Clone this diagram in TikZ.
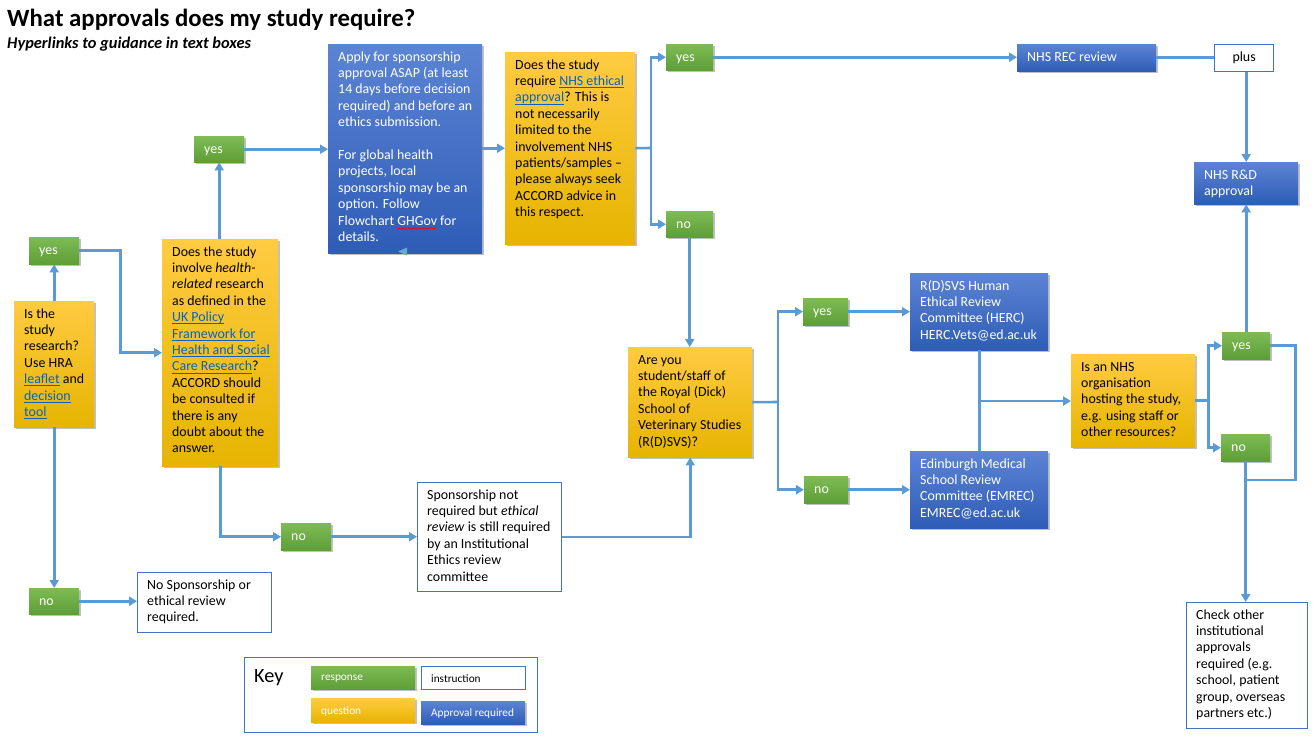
\documentclass[tikz,border=0pt]{standalone}
\usepackage{fontspec}
\setmainfont{Carlito}
\usetikzlibrary{arrows.meta,shadows,decorations.pathmorphing,calc}
\definecolor{lineblue}{RGB}{91,155,213}
\definecolor{ytop}{RGB}{255,203,66}
\definecolor{ybot}{RGB}{230,180,0}
\definecolor{gtop}{RGB}{126,187,86}
\definecolor{gbot}{RGB}{94,158,54}
\definecolor{btop}{RGB}{92,132,212}
\definecolor{bbot}{RGB}{46,92,182}
\definecolor{wborder}{RGB}{68,114,196}
\definecolor{linkc}{RGB}{5,99,193}
\newcommand{\lnk}[1]{{\color{linkc}\setbox0\hbox{#1}\rlap{\vrule width\wd0 height -1.7pt depth 2.6pt}\box0}}
\tikzset{
  shad/.style={drop shadow={shadow xshift=1.5pt,shadow yshift=-2pt,opacity=0.35,fill=black!70}},
  ybox/.style={top color=ytop,bottom color=ybot,draw=none,shad,inner sep=0},
  gbox/.style={top color=gtop,bottom color=gbot,draw=none,shad,inner sep=0},
  bbox/.style={top color=btop,bottom color=bbot,draw=none,shad,inner sep=0},
  wbox/.style={fill=white,draw=wborder,line width=1.2pt,inner sep=0},
  txt/.style={inner sep=0,align=left,font=\fontsize{13.9}{16.4}\selectfont},
  ln/.style={draw=lineblue,line width=2.6pt},
  arr/.style={ln,-{Triangle[length=8pt,width=9pt]}},
}
\newcommand{\tbox}[8]{%
  \pgfmathsetmacro\bw{#6-#4}%
  \pgfmathsetmacro\bh{#7-#5}%
  \node[#1,minimum width=\bw pt,minimum height=\bh pt,anchor=north west] (#3) at (#4,#5) {};%
  \node[txt,text=#2,anchor=north west] at ([xshift=10pt,yshift=-5.5pt]#3.north west) {\strut #8};%
}
\newcommand{\kbox}[8]{%
  \pgfmathsetmacro\bw{#6-#4}%
  \pgfmathsetmacro\bh{#7-#5}%
  \node[#1,minimum width=\bw pt,minimum height=\bh pt,anchor=north west] (#3) at (#4,#5) {};%
  \node[inner sep=0,text=#2,anchor=west,font=\fontsize{11.3}{13}\selectfont] at ([xshift=10pt,yshift=-0.8pt]#3.west) {#8};%
}
\begin{document}
\begin{tikzpicture}[x=1pt,y=-1pt]
\useasboundingbox[fill=white] (0,0) rectangle (1314,742);
% title
\node[anchor=base west,inner sep=0,font=\fontsize{24.8}{29}\selectfont\bfseries] (title) at (7,26.7) {What approvals does my study require?};
\node[anchor=base west,inner sep=0,font=\fontsize{16.4}{19}\selectfont\bfseries\itshape] (subtitle) at (7,48.3) {Hyperlinks to guidance in text boxes};
% boxes
\tbox{gbox}{white}{yesL}{29}{237}{79}{264}{yes}
\tbox{ybox}{black}{research}{14}{301}{94}{427}{Is the\\study\\research?\\Use HRA\\\lnk{leaflet} and\\\lnk{decision}\\\lnk{tool}}
\tbox{ybox}{black}{health}{162}{239}{278}{466}{Does the study\\involve \textit{health-}\\\textit{related} research\\as defined in the\\\lnk{UK Policy}\\\lnk{Framework for}\\\lnk{Health and Social}\\\lnk{Care Research}?\\ACCORD should\\be consulted if\\there is any\\doubt about the\\answer.}
\tbox{gbox}{white}{yesM}{194}{136}{244}{162}{yes}
\tbox{bbox}{white}{sponsor}{328}{44}{482}{253}{Apply for sponsorship\\approval ASAP (at least\\14 days before decision\\required) and before an\\ethics submission.\\[16.4pt]For global health\\projects, local\\sponsorship may be an\\option. Follow\\Flowchart GHGov for\\details.}
\fill[lineblue!90!white] (398,251.5) -- (407,247.5) -- (407,255.5) -- cycle;
\tbox{ybox}{black}{nhs}{505}{52}{635}{244}{Does the study\\require \lnk{NHS ethical}\\\lnk{approval}? This is\\not necessarily\\limited to the\\involvement NHS\\patients/samples --\\please always seek\\ACCORD advice in\\this respect.}
\tbox{gbox}{white}{yesT}{666}{44}{713}{70}{yes}
\tbox{gbox}{white}{noT}{666}{211}{713}{237}{no}
\tbox{bbox}{white}{rec}{1017}{44}{1156}{71}{NHS REC review}
\node[wbox,minimum width=59pt,minimum height=27pt,anchor=north west,font=\fontsize{13.9}{16.4}\selectfont] (plus) at (1214,44) {plus};
\tbox{bbox}{white}{rnd}{1194}{162}{1298}{204}{NHS R\&D\\approval}
\tbox{gbox}{white}{noL}{29}{588}{79}{614}{no}
\tbox{wbox}{black}{nosp}{137}{572}{271}{632}{No Sponsorship or\\ethical review\\required.}
\tbox{gbox}{white}{noM}{281}{523}{331}{550}{no}
\tbox{wbox}{black}{spnot}{417}{482}{561}{591}{Sponsorship not\\required but \textit{ethical}\\\textit{review} is still required\\by an Institutional\\Ethics review\\committee}
\tbox{ybox}{black}{are}{628}{347}{752}{457}{Are you\\student/staff of\\the Royal (Dick)\\School of\\Veterinary Studies\\(R(D)SVS)?}
\tbox{gbox}{white}{yesR}{803}{298}{848}{325}{yes}
\tbox{gbox}{white}{noR}{804}{476}{848}{503}{no}
\tbox{bbox}{white}{herc}{910}{273}{1048}{350}{R(D)SVS Human\\Ethical Review\\Committee (HERC)\\HERC.Vets@ed.ac.uk}
\tbox{bbox}{white}{emrec}{910}{451}{1048}{528}{Edinburgh Medical\\School Review\\Committee (EMREC)\\EMREC@ed.ac.uk}
\tbox{ybox}{black}{host}{1071}{354}{1195}{447}{Is an NHS\\organisation\\hosting the study,\\e.g. using staff or\\other resources?}
\tbox{gbox}{white}{yes2}{1222}{332}{1270}{359}{yes}
\tbox{gbox}{white}{no2}{1221}{434}{1270}{461}{no}
\tbox{wbox}{black}{check}{1186}{602}{1307}{728}{Check other\\institutional\\approvals\\required (e.g.\\school, patient\\group, overseas\\partners etc.)}
% spell-check squiggle
\draw[red,line width=0.6pt,decorate,decoration={snake,amplitude=0.7pt,segment length=2.6pt}] (397,228.5) -- (436,228.5);
% key
\node[wbox,minimum width=293pt,minimum height=75pt,anchor=north west] (keybox) at (244,657) {};
\node[anchor=base west,inner sep=0,font=\fontsize{20.3}{24}\selectfont] (keytitle) at (254,682) {Key};
\kbox{gbox}{white}{k1}{311}{666}{415}{689}{response}
\kbox{wbox}{black}{k2}{421}{666}{525}{689}{instruction}
\kbox{ybox}{white}{k3}{311}{698}{415}{722}{question}
\kbox{bbox}{white}{k4}{421}{701}{525}{724}{Approval required}
% connectors
\draw[arr] (research.north) -- (yesL.south);
\draw[arr] (yesL.east) -- ++(41,0) |- (health.west);
\draw[arr] (research.south) -- (noL.north);
\draw[arr] (noL.east) -- (noL.east -| nosp.west);
\draw[arr] (yesM.south |- health.north) -- (yesM.south);
\draw[arr] (yesM.east) -- (yesM.east -| sponsor.west);
\draw[arr] (sponsor.east |- nhs.west) -- (nhs.west);
\coordinate (t1) at (651,148);
\draw[ln] (nhs.east) -- (t1);
\draw[arr] (t1) |- (yesT.west);
\draw[arr] (t1) |- (noT.west);
\draw[arr] (yesT.east) -- (yesT.east -| rec.west);
\draw[ln] (rec.east) -- (rec.east -| plus.west);
\draw[arr] (rnd.north |- plus.south) -- (rnd.north);
\draw[arr] (noT.south) -- (noT.south |- are.north);
\draw[arr] (health.south) |- (noM.west);
\draw[arr] (noM.east) -- (noM.east -| spnot.west);
\draw[arr] (spnot.east) -| (are.south);
\coordinate (t2) at (778,402);
\draw[ln] (are.east) -- (t2);
\draw[arr] (t2) |- (yesR.west);
\draw[arr] (t2) |- (noR.west);
\draw[arr] (yesR.east) -- (yesR.east -| herc.west);
\draw[arr] (noR.east) -- (noR.east -| emrec.west);
\draw[ln] (herc.south) -- (emrec.north);
\coordinate (j) at (979,401);
\draw[arr] (j) -- (j -| host.west);
\coordinate (t3) at ($(host.east)+(13,0)$);
\draw[ln] (host.east) -- (t3);
\draw[arr] (t3) |- (yes2.west);
\draw[arr] (t3) |- (no2.west);
\draw[arr] (yes2.north) -- (yes2.north |- rnd.south);
\coordinate (m) at (1245.5,480);
\draw[ln] (yes2.east) -- ++(25,0) |- (m);
\draw[arr] (no2.south) -- (no2.south |- check.north);
\end{tikzpicture}
\end{document}
